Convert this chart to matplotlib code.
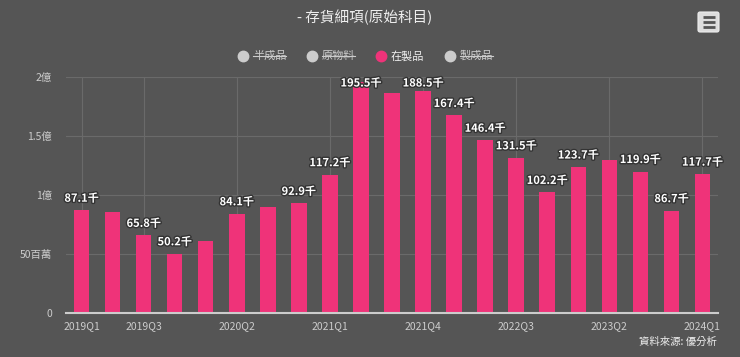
import matplotlib
matplotlib.use("Agg")
import matplotlib.pyplot as plt
import matplotlib.patheffects as pe
from matplotlib.patches import FancyBboxPatch

plt.rcParams['font.family'] = ['Noto Sans CJK TC', 'DejaVu Sans']

# quarterly work-in-progress inventory, in millions (labels are in 千 of thousands)
quarters = ['2019Q1', '2019Q2', '2019Q3', '2019Q4', '2020Q1', '2020Q2', '2020Q3', '2020Q4',
            '2021Q1', '2021Q2', '2021Q3', '2021Q4', '2022Q1', '2022Q2', '2022Q3', '2022Q4',
            '2023Q1', '2023Q2', '2023Q3', '2023Q4', '2024Q1']
wip = [87.1, 85.2, 65.8, 50.2, 61.3, 84.1, 89.6, 92.9, 117.2, 195.5, 186.2, 188.5,
       167.4, 146.4, 131.5, 102.2, 123.7, 129.7, 119.9, 86.7, 117.7]
# Highcharts hides some overlapping labels
shown_labels = [0, 2, 3, 5, 7, 8, 9, 11, 12, 13, 14, 15, 16, 18, 19, 20]
tick_idx = [0, 2, 5, 8, 11, 14, 17, 20]
ytick_vals = [0, 50, 100, 150, 200]
ytick_text = ['0', '50百萬', '1億', '1.5億', '2億']
legend_names = ['半成品', '原物料', '在製品', '製成品']
legend_active = [False, False, True, False]

BG = '#555555'
PINK = '#ef3379'
W, H = 740, 357

fig = plt.figure(figsize=(W / 100, H / 100), dpi=100, facecolor=BG)
ax = fig.add_axes([66 / W, 44 / H, (718 - 66) / W, (313 - 77) / H], facecolor=BG)

x = list(range(len(quarters)))
ax.bar(x, wip, width=0.5, color=PINK, zorder=3)
ax.set_xlim(-0.5, len(quarters) - 0.5)
ax.set_ylim(0, 200)

ax.set_yticks(ytick_vals)
ax.set_yticklabels(ytick_text)
ax.set_xticks(tick_idx)
ax.set_xticklabels([quarters[i] for i in tick_idx])
ax.tick_params(axis='both', length=0, colors='#cccccc', labelsize=7.5)
ax.tick_params(axis='y', pad=10)
ax.tick_params(axis='x', pad=6)
ax.grid(True, color='#6a6a6a', linewidth=0.8, zorder=0)
for s in ['top', 'right', 'left']:
    ax.spines[s].set_visible(False)
ax.spines['bottom'].set_color('#cccccc')
ax.spines['bottom'].set_linewidth(1.5)
ax.spines['bottom'].set_zorder(4)

# data labels, about 12px above the bar, clamped near the top of the plot
px_per_unit = (313 - 77) / 200
for i in shown_labels:
    top = wip[i] * px_per_unit
    off = min(top + 12, 313 - 83) - top
    ax.annotate('%.1f千' % wip[i], xy=(i, wip[i]), xytext=(0, off),
                textcoords='offset pixels', ha='center', va='center',
                fontsize=8, fontweight='bold', color='white', zorder=5,
                path_effects=[pe.withStroke(linewidth=2, foreground='#333333')])

# overlay in pixel coords for title, legend, menu button and credits
ov = fig.add_axes([0, 0, 1, 1], facecolor='none')
ov.set_xlim(0, W)
ov.set_ylim(H, 0)
ov.axis('off')

ov.text(365, 17, '- 存貨細項(原始科目)', ha='center', va='center', fontsize=10.5, color='#eeeeee')

circle_x = [243, 312, 381, 450]
fig.canvas.draw()
r = fig.canvas.get_renderer()
for cx, name, active in zip(circle_x, legend_names, legend_active):
    col = PINK if active else '#cccccc'
    ov.plot(cx, 56, 'o', ms=7.5, color=col)
    t = ov.text(cx + 10, 56, name, ha='left', va='center', fontsize=8,
                color='#eeeeee' if active else '#cccccc')
    if not active:
        bb = t.get_window_extent(renderer=r)
        x0 = bb.x0 * W / fig.bbox.width
        x1 = bb.x1 * W / fig.bbox.width
        ov.plot([x0, x1], [56, 56], color='#cccccc', lw=0.8)

ov.add_patch(FancyBboxPatch((698, 12), 21, 20, boxstyle='round,pad=0,rounding_size=2',
                            facecolor='#dddddd', edgecolor='#eeeeee', lw=0.8))
for yy in [17, 22, 27]:
    ov.plot([702.5, 714.5], [yy, yy], color='#555555', lw=2, solid_capstyle='butt')

ov.text(717, 342, '資料來源: 優分析', ha='right', va='center', fontsize=7.5, color='#eeeeee')

fig.savefig('out.png', dpi=100, facecolor=BG)
